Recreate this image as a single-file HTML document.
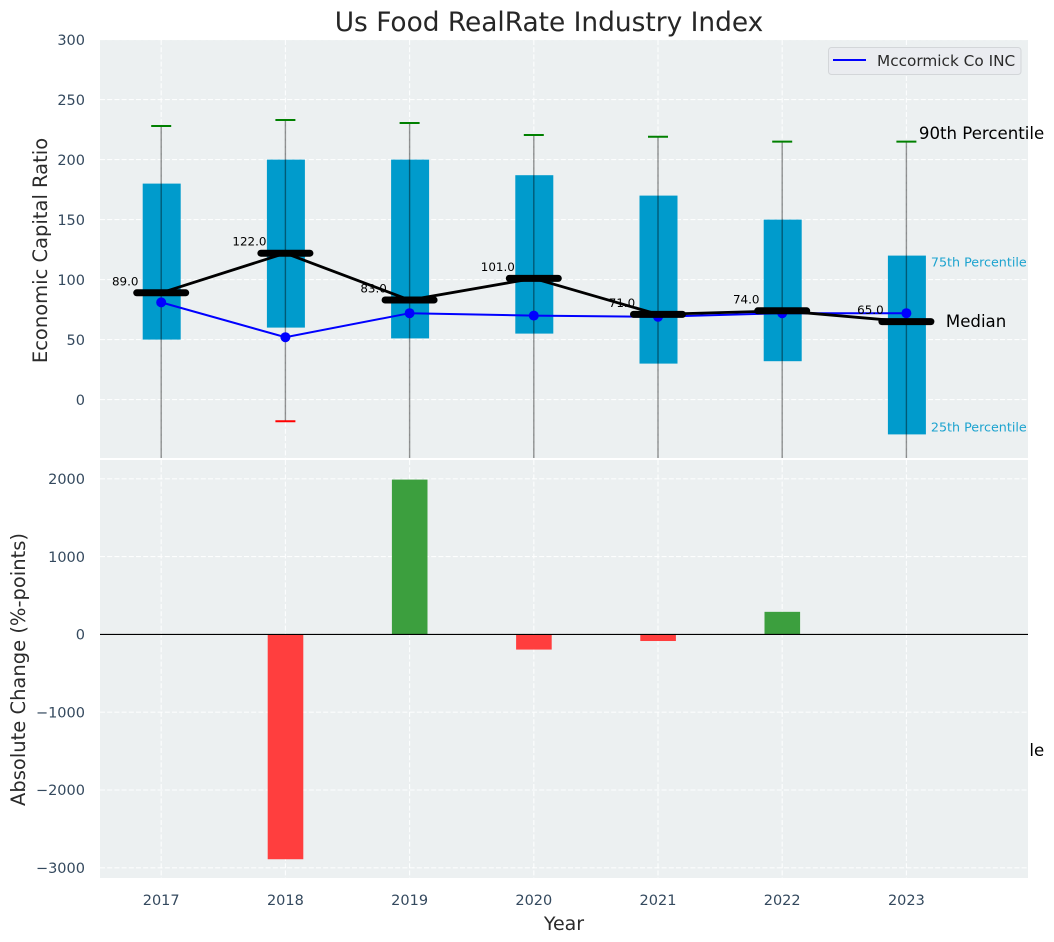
<!DOCTYPE html>
<html>
<head>
<meta charset="utf-8">
<title>Us Food RealRate Industry Index</title>
<style>
html,body{margin:0;padding:0;background:#fff;width:1054px;height:942px;overflow:hidden}
svg{display:block;font-family:"DejaVu Sans","Liberation Sans",sans-serif}
</style>
</head>
<body>
<svg id="chart" xmlns="http://www.w3.org/2000/svg" width="1054" height="942" viewBox="0 0 1054 942">
  <defs>
    <clipPath id="top-clip"><rect x="100" y="40" width="928" height="418"></rect></clipPath>
  </defs>
  <text x="549" y="31" text-anchor="middle" font-size="26.4" fill="#262626">Us Food RealRate Industry Index</text>
  <text transform="translate(47,250.5) rotate(-90)" text-anchor="middle" font-size="19.5" fill="#2b2b2b">Economic Capital Ratio</text>
  <text transform="translate(25,669.5) rotate(-90)" text-anchor="middle" font-size="19.5" fill="#2b2b2b">Absolute Change (%-points)</text>
  <text x="564" y="930" text-anchor="middle" font-size="19" fill="#2b2b2b">Year</text>
  <rect x="100" y="40" width="928" height="418" fill="#ecf0f1"></rect>
  <g id="top-grid"></g>
  <g id="top-marks"></g>
  <rect x="100" y="460" width="928" height="418" fill="#ecf0f1"></rect>
  <g id="bottom-grid"></g>
  <g id="bottom-marks"></g>
  <g id="tick-labels"></g>
  <g>
    <rect x="828.5" y="47.5" width="192.5" height="27" rx="3" fill="#eaecf0" stroke="#d3d6d9" stroke-width="1"></rect>
    <line x1="833" y1="60" x2="866" y2="60" stroke="#0000ff" stroke-width="2"></line>
    <text x="877" y="66" font-size="15.3" fill="#2b2b2b">Mccormick Co INC</text>
  </g>
</svg>
<script>
const years = [2017, 2018, 2019, 2020, 2021, 2022, 2023];
const topTicks = [300, 250, 200, 150, 100, 50, 0];
const bottomTicks = [2000, 1000, 0, -1000, -2000, -3000];
const bottomTickLabels = ["2000", "1000", "0", "\u22121000", "\u22122000", "\u22123000"];
const q1Values = [50, 60, 51, 55, 30, 32, -29];
const q3Values = [180, 200, 200, 187, 170, 150, 120];
const p90Values = [228, 233, 230.5, 220.5, 219, 215, 215];
const p10Values = [-70, -18, -90, -80, -120, -100, -299];
const medianValues = [89, 122, 83, 101, 71, 74, 65];
const companyValues = [81, 52, 72, 70, 69, 72, 72];
const changeValues = [0, -2890, 1990, -195, -85, 290, 0];

const NS = 'http://www.w3.org/2000/svg';
const x = v => 161.2 + (v - 2017) * 124.2;
const yTop = v => 399.6 - v * 1.2;
const yBot = v => 634.4 - v * 0.0778;

function make(tag, attrs, parent, content) {
  const el = document.createElementNS(NS, tag);
  for (const k in attrs) el.setAttribute(k, attrs[k]);
  if (content !== undefined) el.textContent = content;
  parent.appendChild(el);
  return el;
}
const tg = document.getElementById('top-grid');
const tm = document.getElementById('top-marks');
const bg = document.getElementById('bottom-grid');
const bm = document.getElementById('bottom-marks');
const tl = document.getElementById('tick-labels');
const gridStyle = {stroke: '#ffffff', 'stroke-width': 1.1, 'stroke-dasharray': '5 2.2', 'stroke-opacity': 0.9};

topTicks.forEach(t => {
  const g = make('line', {x1: 100, x2: 1028, y1: yTop(t), y2: yTop(t), ...gridStyle}, tg);
  
  
  const l = make('text', {x: 85, y: yTop(t) + 5.2, 'text-anchor': 'end', 'font-size': 14.5, fill: '#34495e'}, tl, String(t));
  
  
});
bottomTicks.forEach((t, i) => {
  const g = make('line', {x1: 100, x2: 1028, y1: yBot(t), y2: yBot(t), ...gridStyle}, bg);
  
  
  const l = make('text', {x: 85, y: yBot(t) + 5.2, 'text-anchor': 'end', 'font-size': 14.5, fill: '#34495e'}, tl, bottomTickLabels[i]);
  
  
});
years.forEach(yr => {
  const a = make('line', {x1: x(yr), x2: x(yr), y1: 40, y2: 458, ...gridStyle}, tg);
  
  
  const b = make('line', {x1: x(yr), x2: x(yr), y1: 460, y2: 878, ...gridStyle}, bg);
  
  
  const l = make('text', {x: x(yr), y: 905, 'text-anchor': 'middle', 'font-size': 14.5, fill: '#34495e'}, tl, String(yr));
  
  
});

years.forEach((yr, i) => {
  const box = make('rect', {x: x(yr) - 18.5, y: yTop(q3Values[i]), width: 38, height: yTop(q1Values[i]) - yTop(q3Values[i]), fill: '#009bcc'}, tm);
  
  
});
years.forEach((yr, i) => {
  const w = make('line', {x1: x(yr), x2: x(yr), y1: yTop(p90Values[i]), y2: yTop(p10Values[i]), stroke: '#000000', 'stroke-opacity': 0.42, 'stroke-width': 1.4, 'clip-path': 'url(#top-clip)'}, tm);
  
  
  const hi = make('line', {x1: x(yr) - 10, x2: x(yr) + 10, y1: yTop(p90Values[i]), y2: yTop(p90Values[i]), stroke: '#008000', 'stroke-width': 2}, tm);
  
  
  const lo = make('line', {x1: x(yr) - 10, x2: x(yr) + 10, y1: yTop(p10Values[i]), y2: yTop(p10Values[i]), stroke: '#ff0000', 'stroke-width': 2, 'clip-path': 'url(#top-clip)'}, tm);
  
  
});

const companyLine = make('polyline', {points: years.map((yr, i) => x(yr) + ',' + yTop(companyValues[i])).join(' '), fill: 'none', stroke: '#0000ff', 'stroke-width': 2}, tm);


years.forEach((yr, i) => {
  const d = make('circle', {cx: x(yr), cy: yTop(companyValues[i]), r: 5, fill: '#0000ff'}, tm);
  
  
});

const medianLine = make('polyline', {points: years.map((yr, i) => x(yr) + ',' + yTop(medianValues[i])).join(' '), fill: 'none', stroke: '#000000', 'stroke-width': 2.8}, tm);


years.forEach((yr, i) => {
  const m = make('line', {x1: x(yr) - 24.5, x2: x(yr) + 24.5, y1: yTop(medianValues[i]), y2: yTop(medianValues[i]), stroke: '#000000', 'stroke-width': 7, 'stroke-linecap': 'round'}, tm);
  
  
  const t = make('text', {x: x(yr) - 36, y: yTop(medianValues[i]) - 7.5, 'text-anchor': 'middle', 'font-size': 11.9, fill: '#000000'}, tm, medianValues[i].toFixed(1));
  
  
});

const last = years.length - 1;
const lastX = x(years[last]);
const a90 = make('text', {x: lastX + 12.5, y: yTop(p90Values[last]) - 2.5, 'font-size': 16.6, fill: '#000000'}, tm, '90th Percentile');


const a10 = make('text', {x: lastX + 12.5, y: yTop(p10Values[last]) - 2.5, 'font-size': 16.6, fill: '#000000'}, tm, '10th Percentile');


const a75 = make('text', {x: lastX + 24.5, y: yTop(q3Values[last]) + 11, 'font-size': 12.7, fill: '#1ca3cf'}, tm, '75th Percentile');


const a25 = make('text', {x: lastX + 24.5, y: yTop(q1Values[last]) - 3, 'font-size': 12.7, fill: '#1ca3cf'}, tm, '25th Percentile');


const aMed = make('text', {x: lastX + 39.5, y: yTop(medianValues[last]) + 5.5, 'font-size': 16.6, fill: '#000000'}, tm, 'Median');



years.forEach((yr, i) => {
  const v = changeValues[i];
  if (v === 0) return;
  const top = Math.min(yBot(v), yBot(0));
  const b = make('rect', {x: x(yr) - 17.7, y: top, width: 35.6, height: Math.abs(yBot(v) - yBot(0)), fill: v > 0 ? '#3c9f3e' : '#ff3e3e'}, bm);
  
  
});
const zero = make('line', {x1: 100, x2: 1028, y1: yBot(0), y2: yBot(0), stroke: '#000000', 'stroke-width': 1.1}, bm);


</script>
</body>
</html>
